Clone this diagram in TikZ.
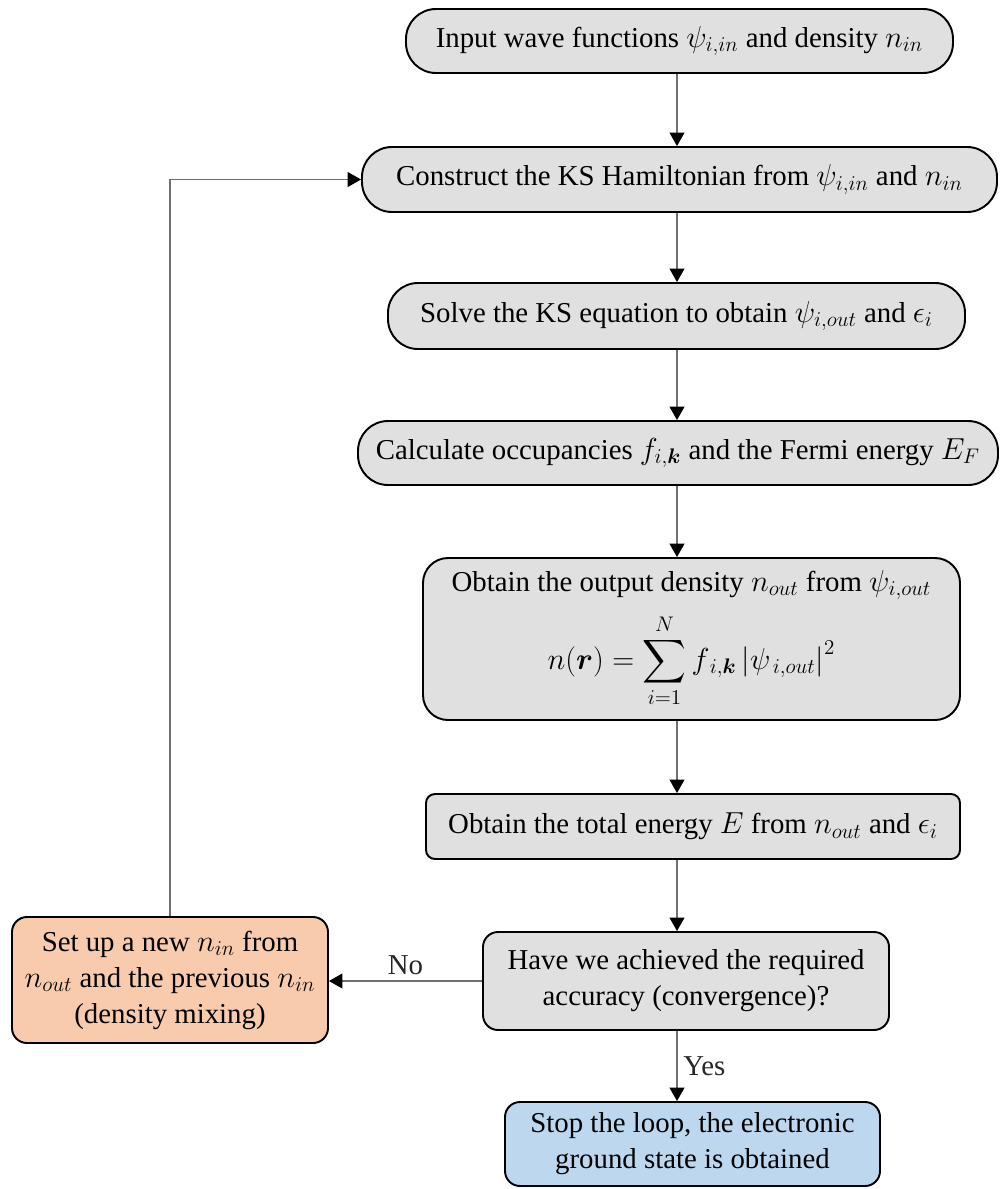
\documentclass[tikz,border=0pt]{standalone}
\usepackage{amsmath,bm}
\usepackage{fontspec}
\setmainfont{Liberation Serif}
\usetikzlibrary{arrows.meta,positioning}
\definecolor{boxgray}{HTML}{E0E0E0}
\definecolor{boxorange}{HTML}{F8CBAD}
\definecolor{boxblue}{HTML}{BDD7EE}
\definecolor{linegray}{HTML}{707070}
\tikzset{
  base/.style={draw=black, line width=1.1pt, fill=boxgray, align=center,
    font=\fontsize{16.4}{20.5}\selectfont, inner sep=2pt},
  pill/.style={base, rounded corners=0.6cm},
  rbox/.style={base, rounded corners=0.3cm},
  conn/.style={draw=linegray, line width=0.6pt,
    -{Triangle[width=0.3cm,length=0.27cm,fill=black,color=black]}},
  lbl/.style={font=\fontsize{16.4}{20.5}\selectfont, text=black!85}
}
\begin{document}
\begin{tikzpicture}
\useasboundingbox (0,0) rectangle (20,-23.78);
\coordinate (col) at (13.54,0);

\node[pill, minimum width=10.94cm, minimum height=1.28cm] (b1) at (13.59,-0.82)
  {Input wave functions $\psi_{i,in}$ and density $n_{in}$};
\node[pill, minimum width=12.7cm, minimum height=1.3cm] (b2) at (13.59,-3.59)
  {Construct the KS Hamiltonian from $\psi_{i,in}$ and $n_{in}$};
\node[pill, minimum width=11.54cm, minimum height=1.32cm] (b3) at (13.53,-6.32)
  {Solve the KS equation to obtain $\psi_{i,out}$ and $\epsilon_i$};
\node[pill, minimum width=12.8cm, minimum height=1.28cm] (b4) at (13.56,-9.06)
  {Calculate occupancies $f_{i,\bm{k}}$ and the Fermi energy $E_F$};
\node[base, rounded corners=0.5cm, minimum width=10.74cm, minimum height=3.24cm] (b5) at (13.83,-12.78)
  {Obtain the output density $n_{out}$ from $\psi_{i,out}$\\[7pt]
   $\displaystyle n(\bm{r}) = \sum_{i=1}^{N} f_{\,i,\bm{k}}\left|\psi_{\,i,out}\right|^{2}$};
\node[base, rounded corners=0.18cm, minimum width=10.68cm, minimum height=1.3cm] (b6) at (13.86,-16.53)
  {Obtain the total energy $E$ from $n_{out}$ and $\epsilon_i$};
\node[rbox, minimum width=8.12cm, minimum height=1.96cm] (b7) at (13.72,-19.62)
  {Have we achieved the required\\accuracy (convergence)?};
\node[rbox, fill=boxorange, minimum width=6.32cm, minimum height=2.52cm] (b8) at (3.4,-19.6)
  {Set up a new $n_{in}$ from\\$n_{out}$ and the previous $n_{in}$\\(density mixing)};
\node[rbox, fill=boxblue, minimum width=7.5cm, minimum height=1.68cm] (b9) at (13.85,-22.88)
  {Stop the loop, the electronic\\ground state is obtained};

\draw[conn] (b1.south -| col) -- (b2.north -| col);
\draw[conn] (b2.south -| col) -- (b3.north -| col);
\draw[conn] (b3.south -| col) -- (b4.north -| col);
\draw[conn] (b4.south -| col) -- (b5.north -| col);
\draw[conn] (b5.south -| col) -- (b6.north -| col);
\draw[conn] (b6.south -| col) -- (b7.north -| col);
\draw[conn] (b7.south -| col) -- node[right, lbl] {Yes} (b9.north -| col);
\draw[conn] (b7.west) -- node[above, lbl] {No} (b8.east |- b7.west);
\draw[conn] (b8.north) |- (b2.west);
\end{tikzpicture}
\end{document}
